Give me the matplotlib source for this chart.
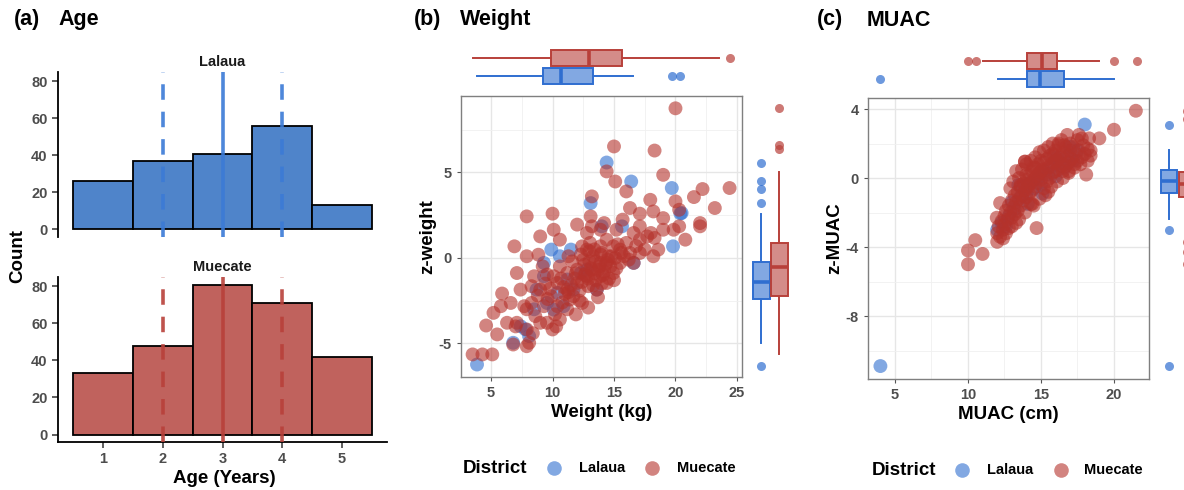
import matplotlib
matplotlib.use("Agg")
import matplotlib.pyplot as plt
from matplotlib.lines import Line2D
from matplotlib.ticker import MultipleLocator
from matplotlib.colors import to_rgba

plt.rcParams['font.family'] = ['Liberation Sans', 'DejaVu Sans']
plt.rcParams['font.weight'] = 'bold'
plt.rcParams['axes.unicode_minus'] = False

# ---------------- data ----------------
districts = ["Lalaua", "Muecate"]
age_years = [1, 2, 3, 4, 5]
age_counts_lalaua = [26, 37, 41, 56, 13]
age_counts_muecate = [33, 48, 81, 71, 42]
age_quartiles_lalaua = [2, 3, 4]
age_quartiles_muecate = [2, 3, 4]

weight_lalaua = [14.4, 16.4, 19.7, 13.1, 14.0, 15.65, 20.5, 19.8, 9.9, 10.6, 3.86, 8.1, 6.8, 7.8, 8.7,
                 9.3, 11.7, 13.6, 10.9, 10.1, 7.4, 12.3, 10.4, 8.5, 9.3, 16.6, 11.5, 12.8, 9.55, 11.2, 20.4]
zweight_lalaua = [5.58, 4.47, 4.09, 3.21, 1.85, 1.85, 2.63, 0.68, 0.49, 0.1, -6.23, -4.57, -4.96, -4.18, -1.85,
                  -1.07, -1.85, -1.85, -2.82, -3.02, -3.99, -0.88, -2.04, -3.0, -0.29, -0.29, 0.49, -0.68, -2.63, -1.26, 2.6]

weight_muecate = [20.0, 15.0, 18.3, 14.4, 15.1, 19.0, 24.4, 22.2, 21.5, 23.2, 20.0, 16.0, 13.2, 17.95, 13.1,
                  16.3, 17.1, 18.2, 19.0, 20.3, 22.0, 22.0, 20.3, 20.8, 19.0, 18.6, 18.2, 17.7, 17.1, 16.6,
                  15.7, 15.2, 14.2, 12.8, 12.0, 10.0, 7.9, 10.1, 10.6, 9.0, 6.9, 7.9, 8.85, 7.1, 5.9,
                  5.2, 4.6, 5.5, 3.5, 4.3, 5.1, 6.8, 7.9, 6.3, 7.7, 8.3, 9.55, 10.0, 9.0, 8.3,
                  9.0, 10.4, 10.6, 11.2, 11.7, 12.4, 12.9, 13.9, 14.4, 14.95, 15.5, 16.6, 17.1, 16.3, 13.9,
                  13.3, 12.4, 11.3, 10.6, 11.2, 12.0, 12.5, 13.2, 14.95, 15.5, 14.4, 13.6, 12.8, 12.0, 10.4,
                  9.9, 9.3, 8.6, 7.9, 7.4, 6.6, 5.8, 7.1, 7.9, 8.1, 9.55, 11.2, 11.4, 10.1, 9.2,
                  8.5, 14.4, 13.9, 13.05, 12.8, 14.55, 16.0, 17.1, 18.0, 13.9, 13.2, 18.3, 19.85,
                  12.6, 13.0, 13.4, 13.8, 14.2, 14.7, 15.1, 15.8, 16.2, 13.5, 12.2, 11.8, 11.0, 10.8, 10.2,
                  9.6, 9.4, 8.8, 12.3, 14.0, 15.3, 16.8, 17.5, 11.6, 10.9, 9.8, 13.7, 12.9, 11.9, 10.3, 8.4, 7.0,
                  12.7, 13.1, 13.5, 13.9, 14.3, 14.8, 15.2, 15.6, 12.4, 12.9, 13.3, 13.7, 14.1, 14.6, 11.9,
                  12.2, 11.5, 13.0, 13.4, 14.0, 14.5, 15.0, 10.7, 11.3, 12.6]
zweight_muecate = [8.75, 6.52, 6.28, 5.06, 4.47, 4.86, 4.09, 4.03, 3.56, 2.92, 3.31, 3.89, 3.6, 3.4, 2.43,
                   2.92, 2.59, 2.72, 2.33, 2.82, 1.85, 2.04, 1.85, 1.07, 1.65, 0.49, 0.1, 1.26, 1.85, 1.46,
                   2.24, 1.65, 2.04, 1.46, 1.95, 2.59, 2.43, 1.65, 1.07, 1.26, 0.68, 0.1, 0.19, -0.88, -2.08,
                   -3.21, -3.95, -4.47, -5.64, -5.64, -5.64, -5.06, -5.16, -3.79, -2.82, -1.65, -0.97, -4.18, -3.79, -2.63,
                   -1.85, -2.82, -3.6, -1.85, -2.24, -2.63, -1.65, -1.07, -0.29, 0.68, 0.49, -0.29, 0.29, 0.29, 0.68,
                   0.1, 0.68, 0.1, -0.49, -0.88, -0.68, -0.1, -0.68, -0.88, -0.29, -1.46, -1.85, -1.07, -1.46, -1.46,
                   -2.24, -2.82, -3.4, -3.0, -1.85, -2.63, -2.82, -3.79, -4.18, -4.96, -3.79, -3.0, -2.43, -1.07, -0.49,
                   -1.07, 1.07, -0.29, 0.88, 0.49, 0.1, 0.88, 1.07, 1.46, 1.65, 1.85, 1.17, 1.65,
                   -0.4, -0.2, -0.9, -0.5, -0.8, -0.5, 0.0, 0.1, -0.1, -1.3, -1.9, -1.2, -2.1, -2.6, -3.3,
                   -2.4, -1.5, -2.2, 0.2, 0.3, 0.8, 0.7, 0.5, -0.2, -1.7, -1.8, -2.3, -2.9, -3.3, -4.0, -4.4, -4.0,
                   -0.9, -0.6, -0.2, 0.2, -0.4, 0.1, -0.6, 0.3, -1.4, -1.2, -1.6, -0.7, -1.0, -1.2, -0.9,
                   -2.5, -1.6, 0.4, 0.5, -1.5, -0.1, -1.3, -1.2, -2.0, -1.0]

muac_lalaua = [18.0, 4.0, 13.45, 12.0, 12.3, 12.8, 13.2, 13.6, 14.0, 14.2, 14.5, 14.8, 15.0, 15.2,
               15.5, 15.8, 16.0, 16.3, 16.6, 16.9, 17.2, 17.5, 15.1, 14.1, 16.1, 13.0, 12.6, 17.0]
zmuac_lalaua = [3.1, -10.9, -0.4, -3.0, -2.6, -2.2, -1.8, -1.1, -0.9, -0.3, -0.6, 0.0, -0.4, 0.4,
                0.2, 0.7, 0.1, 0.9, 0.6, 1.3, 1.0, 1.6, -0.9, -1.5, 1.2, -1.4, -2.8, 1.8]

muac_muecate = [12.0, 12.1, 12.2, 12.3, 12.4, 12.5, 12.5, 12.6, 12.7, 12.8, 12.8, 12.9, 13.0, 13.0, 13.1,
                13.2, 13.2, 13.3, 13.4, 13.4, 13.5, 13.6, 13.6, 13.7, 13.8, 13.8, 13.9, 13.9, 14.0, 14.0,
                14.1, 14.2, 14.2, 14.3, 14.4, 14.4, 14.5, 14.6, 14.6, 14.7, 14.8, 14.8, 14.9, 15.0, 15.0,
                15.1, 15.2, 15.2, 15.3, 15.4, 15.4, 15.5, 15.6, 15.6, 15.7, 15.8, 15.8, 15.9, 16.0, 16.0,
                16.1, 16.2, 16.2, 16.3, 16.4, 16.5, 16.5, 16.6, 16.7, 16.7, 16.8, 16.9, 17.0, 17.0, 17.1,
                17.2, 17.3, 17.4, 17.5, 17.5, 17.6, 17.8, 17.9, 18.0, 18.2, 18.3, 18.4, 18.1, 19.0, 20.0,
                21.5, 14.7, 14.5, 12.2, 11.97, 12.0, 10.5, 10.0, 11.0, 10.0, 12.6, 15.9, 13.9, 17.6, 16.2,
                18.4, 15.5, 14.3, 13.3, 16.9,
                12.9, 13.1, 13.3, 13.5, 13.7, 14.0, 14.3, 14.6, 14.9, 15.2, 15.5, 15.8, 16.4, 16.8, 15.3,
                15.7, 16.1, 16.5, 16.9, 17.3, 17.7, 14.9, 14.4, 13.9, 13.5, 13.0, 12.4, 17.8, 18.2, 15.0,
                14.5, 14.0, 13.6, 16.0, 16.6]
zmuac_muecate = [-3.2, -2.8, -3.4, -2.5, -3.0, -2.2, -2.7, -1.9, -2.4, -1.6, -2.9, -2.0, -1.3, -2.3, -1.7,
                 -1.0, -2.1, -1.4, -0.8, -1.9, -1.2, -0.5, -1.6, -1.0, -0.3, -1.3, -0.7, 0.95, -0.1, -1.1,
                 -0.5, 0.2, -0.9, -0.3, 0.4, -0.7, -0.1, 0.6, -0.5, 0.1, 0.8, -0.3, 0.3, 1.0, -0.1,
                 0.5, -0.6, 0.9, 0.2, 1.1, -0.2, 0.6, 1.3, 0.0, 0.8, 0.3, 1.4, 0.9, 0.4, 1.6,
                 1.0, 0.5, 1.9, 1.2, 0.7, 1.5, 0.4, 1.1, 1.8, 0.7, 1.3, 0.9, 1.6, 2.0, 1.1,
                 1.8, 0.8, 1.4, 2.2, 1.0, 1.6, 1.2, 1.9, 1.4, 1.0, 2.3, 1.6, 0.2, 2.3, 2.8,
                 3.9, -2.9, -1.6, -1.45, -2.3, -3.7, -3.6, -4.2, -4.4, -5.0, -3.2, 1.35, 0.95, 2.5, 2.0,
                 1.3, -0.8, -1.5, -2.6, 0.3,
                 -0.6, -0.2, 0.4, 0.0, 0.5, 0.8, 1.0, 1.2, 1.5, 1.6, 1.8, 2.0, 2.2, 2.5, -1.0,
                 -0.5, -0.2, 0.0, 0.4, 0.6, 0.8, -1.2, -1.5, -2.0, -2.4, -2.8, -3.5, 2.3, 1.7, 0.4,
                 0.6, 0.2, -0.4, 1.0, 1.9]

# marginal boxplot summaries: [lower whisker, Q1, median, Q3, upper whisker]
weight_box_lalaua = [3.86, 9.23, 10.7, 13.3, 16.56]
weight_out_lalaua = [19.74, 20.4]
weight_box_muecate = [3.53, 9.89, 12.98, 15.67, 23.5]
weight_out_muecate = [24.4]
zweight_box_lalaua = [-4.97, -2.4, -1.4, -0.23, 2.57]
zweight_out_lalaua = [5.55, 4.5, 4.05, 3.2, -6.3]
zweight_box_muecate = [-5.6, -2.22, -0.53, 0.88, 5.03]
zweight_out_muecate = [8.77, 6.6, 6.37]
muac_box_lalaua = [12.05, 14.04, 14.93, 16.58, 20.0]
muac_out_lalaua = [4.0]
muac_box_muecate = [11.03, 14.04, 15.07, 16.1, 18.97]
muac_out_muecate = [10.0, 10.55, 20.0, 21.55]
zmuac_box_lalaua = [-2.4, -0.87, -0.17, 0.46, 1.62]
zmuac_out_lalaua = [3.07, -3.0, -10.9]
zmuac_box_muecate = [-2.9, -1.1, -0.35, 0.35, 2.3]
zmuac_out_muecate = [3.9, 3.4, -3.7, -4.3, -5.0]

# ---------------- style ----------------
BLUE_BAR = '#4F84CA'
RED_BAR = '#C0625D'
BLUE_LINE = '#3B7AD6'
RED_LINE = '#B8403A'
BLUE_PT = '#2F6ED0'
RED_PT = '#B5322B'
TICK_GRAY = '#4D4D4D'
PT_SIZE = 100
W, H = 1184, 490

fig = plt.figure(figsize=(W / 100, H / 100), dpi=100)


def rect(x0, y0, x1, y1):
    return [x0 / W, 1 - y1 / H, (x1 - x0) / W, (y1 - y0) / H]


def ftext(x, y, s, **kw):
    fig.text(x / W, 1 - y / H, s, **kw)


# ---------------- panel (a) ----------------
ftext(14, 20, "(a)", fontsize=15.5, fontweight='bold', va='center', ha='left')
ftext(58, 20, "Age", fontsize=15.5, fontweight='bold', va='center', ha='left')

panels_a = [
    (rect(58, 72, 387, 237), age_counts_lalaua, age_quartiles_lalaua, BLUE_BAR, BLUE_LINE, "Lalaua", False),
    (rect(58, 277, 387, 442), age_counts_muecate, age_quartiles_muecate, RED_BAR, RED_LINE, "Muecate", True),
]
for r, counts, quart, bcol, lcol, name, show_x in panels_a:
    ax = fig.add_axes(r)
    ax.bar(age_years, counts, width=1.0, color=bcol, edgecolor='black', linewidth=1.3, zorder=2)
    for i, q in enumerate(quart):
        ls = '-' if i == 1 else (0, (4.3, 3.3))
        ax.axvline(q, color=lcol, lw=2.6, ls=ls, alpha=0.9, zorder=3)
    ax.set_xlim(0.25, 5.75)
    ax.set_ylim(-4.05, 85.05)
    ax.set_yticks([0, 20, 40, 60, 80])
    for s in ['top', 'right']:
        ax.spines[s].set_visible(False)
    ax.spines['left'].set_linewidth(1.3)
    ax.tick_params(axis='y', labelsize=10.5, labelcolor=TICK_GRAY, length=4, width=1.1, color='#333333')
    if show_x:
        ax.spines['bottom'].set_linewidth(1.3)
        ax.set_xticks(age_years)
        ax.tick_params(axis='x', labelsize=10.5, labelcolor=TICK_GRAY, length=4, width=1.1, color='#333333')
    else:
        ax.spines['bottom'].set_visible(False)
        ax.set_xticks([])
    for lab in ax.get_xticklabels() + ax.get_yticklabels():
        lab.set_fontweight('bold')
    ax.set_title(name, fontsize=10.5, fontweight='bold', pad=4, color='#1a1a1a')

ftext(18, 256, "Count", fontsize=13.5, fontweight='bold', rotation=90, va='center', ha='center')
ftext(224, 478, "Age (Years)", fontsize=13.5, fontweight='bold', va='center', ha='center')


# ---------------- helpers for scatter panels ----------------
def style_scatter(ax, xmaj, ymaj):
    ax.set_facecolor('white')
    ax.xaxis.set_major_locator(MultipleLocator(xmaj))
    ax.xaxis.set_minor_locator(MultipleLocator(xmaj / 2))
    ax.yaxis.set_major_locator(MultipleLocator(ymaj))
    ax.yaxis.set_minor_locator(MultipleLocator(ymaj / 2))
    ax.grid(True, which='major', color='#E6E6E6', lw=1.0, zorder=0)
    ax.grid(True, which='minor', color='#F0F0F0', lw=0.6, zorder=0)
    ax.set_axisbelow(True)
    for s in ax.spines.values():
        s.set_color('#7F7F7F')
        s.set_linewidth(1.0)
    ax.tick_params(which='major', labelsize=10.5, labelcolor=TICK_GRAY, length=3, width=0.8, color='#555555')
    ax.tick_params(which='minor', length=0)
    for lab in ax.get_xticklabels() + ax.get_yticklabels():
        lab.set_fontweight('bold')


def draw_box(ax, stats, fliers, pos, width, color, orient):
    st = [dict(whislo=stats[0], q1=stats[1], med=stats[2], q3=stats[3], whishi=stats[4], fliers=fliers)]
    ax.bxp(st, positions=[pos], widths=width, orientation=orient, patch_artist=True, showcaps=False,
           boxprops=dict(facecolor=to_rgba(color, 0.6), edgecolor=color, linewidth=1.4),
           medianprops=dict(color=color, linewidth=2.6),
           whiskerprops=dict(color=color, linewidth=1.4),
           flierprops=dict(marker='o', markerfacecolor=to_rgba(color, 0.7), markeredgecolor='none',
                           markersize=6.5))


def legend_row(x_title, x_m1, x_t1, x_m2, x_t2, y):
    ftext(x_title, y, "District", fontsize=13.5, fontweight='bold', va='center', ha='left')
    for xm, col in [(x_m1, BLUE_PT), (x_m2, RED_PT)]:
        fig.add_artist(Line2D([xm / W], [1 - y / H], marker='o', markersize=10.5, linestyle='none',
                              markerfacecolor=to_rgba(col, 0.6), markeredgecolor='none',
                              transform=fig.transFigure))
    ftext(x_t1, y, districts[0], fontsize=10.5, fontweight='bold', va='center', ha='left')
    ftext(x_t2, y, districts[1], fontsize=10.5, fontweight='bold', va='center', ha='left')


# ---------------- panel (b) ----------------
ftext(414, 20, "(b)", fontsize=15.5, fontweight='bold', va='center', ha='left')
ftext(460, 20, "Weight", fontsize=15.5, fontweight='bold', va='center', ha='left')

axb = fig.add_axes(rect(461, 96, 742, 377))
axb.scatter(weight_lalaua, zweight_lalaua, s=PT_SIZE, color=BLUE_PT, alpha=0.6, edgecolors='none', zorder=3)
axb.scatter(weight_muecate, zweight_muecate, s=PT_SIZE, color=RED_PT, alpha=0.6, edgecolors='none', zorder=3)
axb.set_xlim(2.557, 25.41)
axb.set_ylim(-6.96, 9.47)
style_scatter(axb, 5, 5)
axb.set_yticks([-5, 0, 5])
axb.set_xlabel("Weight (kg)", fontsize=13.5, fontweight='bold', labelpad=3)
axb.set_ylabel("z-weight", fontsize=13.5, fontweight='bold', labelpad=2)

axbt = fig.add_axes(rect(461, 44, 742, 92))
draw_box(axbt, weight_box_muecate, weight_out_muecate, 0.708, 0.33, RED_LINE, 'horizontal')
draw_box(axbt, weight_box_lalaua, weight_out_lalaua, 0.333, 0.33, BLUE_PT, 'horizontal')
axbt.set_xlim(2.557, 25.41)
axbt.set_ylim(0, 1)
axbt.axis('off')

axbr = fig.add_axes(rect(748, 96, 796, 377))
draw_box(axbr, zweight_box_lalaua, zweight_out_lalaua, 0.281, 0.35, BLUE_PT, 'vertical')
draw_box(axbr, zweight_box_muecate, zweight_out_muecate, 0.656, 0.35, RED_LINE, 'vertical')
axbr.set_ylim(-6.96, 9.47)
axbr.set_xlim(0, 1)
axbr.axis('off')

legend_row(463, 554, 579, 652, 677, 468)

# ---------------- panel (c) ----------------
ftext(817, 20, "(c)", fontsize=15.5, fontweight='bold', va='center', ha='left')
ftext(867, 20, "MUAC", fontsize=15.5, fontweight='bold', va='center', ha='left')

axc = fig.add_axes(rect(868, 98, 1149, 379))
axc.scatter(muac_lalaua, zmuac_lalaua, s=PT_SIZE, color=BLUE_PT, alpha=0.6, edgecolors='none', zorder=3)
axc.scatter(muac_muecate, zmuac_muecate, s=PT_SIZE, color=RED_PT, alpha=0.6, edgecolors='none', zorder=3)
axc.set_xlim(3.15, 22.4)
axc.set_ylim(-11.65, 4.64)
style_scatter(axc, 5, 4)
axc.set_xticks([5, 10, 15, 20])
axc.set_yticks([-8, -4, 0, 4])
axc.set_xlabel("MUAC (cm)", fontsize=13.5, fontweight='bold', labelpad=3)
axc.set_ylabel("z-MUAC", fontsize=13.5, fontweight='bold', labelpad=2)

axct = fig.add_axes(rect(868, 46, 1149, 94))
draw_box(axct, muac_box_muecate, muac_out_muecate, 0.6875, 0.33, RED_LINE, 'horizontal')
draw_box(axct, muac_box_lalaua, muac_out_lalaua, 0.3125, 0.33, BLUE_PT, 'horizontal')
axct.set_xlim(3.15, 22.4)
axct.set_ylim(0, 1)
axct.axis('off')

axcr = fig.add_axes(rect(1155, 98, 1203, 379))
draw_box(axcr, zmuac_box_lalaua, zmuac_out_lalaua, 0.29, 0.35, BLUE_PT, 'vertical')
draw_box(axcr, zmuac_box_muecate, zmuac_out_muecate, 0.667, 0.35, RED_LINE, 'vertical')
axcr.set_ylim(-11.65, 4.64)
axcr.set_xlim(0, 1)
axcr.axis('off')

legend_row(872, 962, 987, 1061, 1084, 470)

fig.savefig("out.png", dpi=100)
